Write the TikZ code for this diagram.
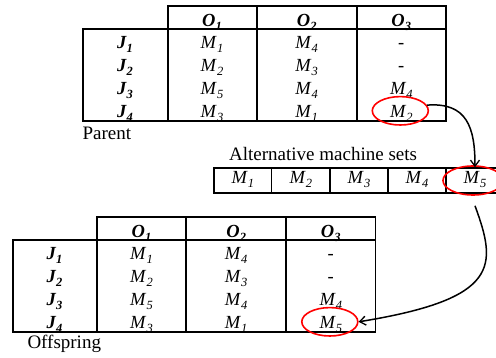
\documentclass[tikz,border=0pt]{standalone}
\usepackage{fontspec}
\setmainfont{Liberation Serif}
\usetikzlibrary{shapes.geometric,arrows.meta}
\newcommand\MM[1]{\textit{M}\raisebox{-4pt}{\fontsize{12.5}{12.5}\selectfont\textit{#1}}}
\newcommand\JJ[1]{\textbf{\textit{J}}\raisebox{-4pt}{\fontsize{12.5}{12.5}\selectfont\textbf{\textit{#1}}}}
\newcommand\OO[1]{\textbf{\textit{O}}\raisebox{-4pt}{\fontsize{12.5}{12.5}\selectfont\textbf{\textit{#1}}}}
\tikzset{
  tbl/.style={line width=1.8pt},
  cell/.style={anchor=base, inner sep=0pt, font=\fontsize{18.5}{19}\selectfont},
  lbl/.style={anchor=base west, inner sep=0pt, font=\fontsize{19}{20}\selectfont},
  sel/.style={draw=red, line width=1.6pt, ellipse, inner sep=0pt},
  conn/.style={line width=1.5pt, -{Straight Barb[length=6pt,width=9pt,line width=1.3pt]}}
}
% #1 prefix, #2 shift, #3 entry J4/O3
\newcommand\jobtable[3]{%
\begin{scope}[shift={#2}]
  \draw[tbl] (167.7,6) rectangle (446,120.7);
  \draw[tbl] (83.3,29) rectangle (446,120.7);
  \draw[tbl] (256.7,6) -- (256.7,120.7);
  \draw[tbl] (356.7,6) -- (356.7,120.7);
  \node[cell] (#1-h1) at (212,26.2) {\OO{1}};
  \node[cell] (#1-h2) at (306.7,26.2) {\OO{2}};
  \node[cell] (#1-h3) at (401.3,26.2) {\OO{3}};
  \node[cell] (#1-j1) at (125,48.3) {\JJ{1}};
  \node[cell] (#1-j2) at (125,71.3) {\JJ{2}};
  \node[cell] (#1-j3) at (125,94.3) {\JJ{3}};
  \node[cell] (#1-j4) at (125,117.3) {\JJ{4}};
  \node[cell] (#1-r1c1) at (212,48.3) {\MM{1}};
  \node[cell] (#1-r1c2) at (306.7,48.3) {\MM{4}};
  \node[cell] (#1-r1c3) at (401.3,48.3) {-};
  \node[cell] (#1-r2c1) at (212,71.3) {\MM{2}};
  \node[cell] (#1-r2c2) at (306.7,71.3) {\MM{3}};
  \node[cell] (#1-r2c3) at (401.3,71.3) {-};
  \node[cell] (#1-r3c1) at (212,94.3) {\MM{5}};
  \node[cell] (#1-r3c2) at (306.7,94.3) {\MM{4}};
  \node[cell] (#1-r3c3) at (401.3,94.3) {\MM{4}};
  \node[cell] (#1-r4c1) at (212,117.3) {\MM{3}};
  \node[cell] (#1-r4c2) at (306.7,117.3) {\MM{1}};
  \node[cell] (#1-r4c3) at (401.3,117.3) {\MM{#3}};
\end{scope}}
\begin{document}
\begin{tikzpicture}[x=1pt,y=-1pt]
  \clip (0,0) rectangle (496,358);
  \fill[white] (0,0) rectangle (496,358);
  % parent
  \jobtable{p}{(0,0)}{2}
  \node[lbl] (parent) at (82.3,139.3) {Parent};
  \node[sel, minimum width=56pt, minimum height=28.4pt] (selA) at (400.3,110.8) {};
  % alternative machine sets
  \node[lbl] (alttitle) at (229,161) {Alternative machine sets};
  \draw[tbl] (214,168) rectangle (504,193);
  \draw[tbl] (271.5,168) -- (271.5,193);
  \draw[tbl] (330,168) -- (330,193);
  \draw[tbl] (388,168) -- (388,193);
  \draw[tbl] (446,168) -- (446,193);
  \node[cell] (a1) at (242.8,184) {\MM{1}};
  \node[cell] (a2) at (300.8,184) {\MM{2}};
  \node[cell] (a3) at (359,184) {\MM{3}};
  \node[cell] (a4) at (417,184) {\MM{4}};
  \node[cell] (a5) at (475,184) {\MM{5}};
  \node[sel, minimum width=60pt, minimum height=29pt] (selB) at (473,180.5) {};
  % offspring
  \jobtable{o}{(-70.5,211)}{5}
  \node[lbl] (offspring) at (27.3,348.3) {Offspring};
  \node[sel, minimum width=56pt, minimum height=28.4pt] (selC) at (329.8,321.8) {};
  % connectors
  \draw[conn] (selA.12) .. controls +(40,-3) and +(0,-40) .. ([xshift=2pt,yshift=-2pt]selB.north);
  \draw[conn] ([shift={(2pt,-10pt)}]selB.south) .. controls +(22,60) and +(142,-23) .. (selC.east);
\end{tikzpicture}
\end{document}
